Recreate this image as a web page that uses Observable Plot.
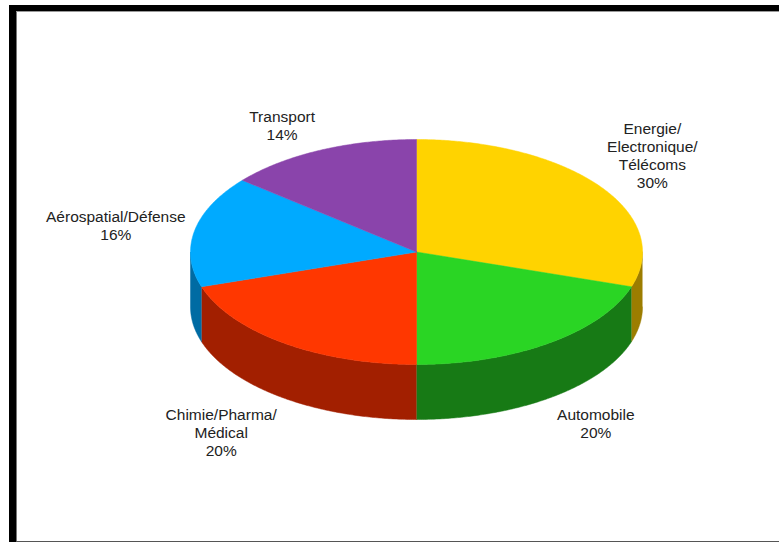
<!DOCTYPE html>
<html>
<head>
<meta charset="utf-8">
<script src="https://cdn.jsdelivr.net/npm/d3@7"></script>
<script src="https://cdn.jsdelivr.net/npm/@observablehq/plot@0.6"></script>
<style>
  html, body { margin: 0; padding: 0; background: #fff; }
  #wrap { position: relative; width: 779px; height: 542px; overflow: hidden; background: #fff; }
  #chart { position: absolute; left: 0; top: 0; }
  .bl { position: absolute; left: 9px; top: 5px; width: 7px; height: 537px; background: #000; }
  .bt { position: absolute; left: 9px; top: 5px; width: 770px; height: 6px; background: #000; }
  .gl { position: absolute; left: 16px; top: 11px; width: 1px; height: 531px; background: #777; }
  .gt { position: absolute; left: 16px; top: 11px; width: 763px; height: 1px; background: #999; }
  .gb { position: absolute; left: 16px; top: 541px; width: 763px; height: 1px; background: #555; }
</style>
</head>
<body>
<div id="wrap">
  <div id="chart"></div>
  <div class="bl"></div><div class="bt"></div>
  <div class="gl"></div><div class="gt"></div><div class="gb"></div>
</div>
<script>
// ---- data ----
const labels = ["Energie/\nElectronique/\nTélécoms", "Automobile", "Chimie/Pharma/\nMédical", "Aérospatial/Défense", "Transport"];
const shares = [30, 20, 20, 16, 14];
const topColors = ["#FFD300", "#2AD524", "#FF3700", "#00AAFF", "#8A44AB"];
const sideColors = ["#9C7D00", "#177A15", "#A21F00", "#006BA3", "#53296A"];

// ---- layout ----
const W = 779, H = 542;
const cx = 416, cy = 251.5, rx = 226, ry = 112.5, depth = 55;
const rad = d => d * Math.PI / 180;
const pt = (a, dy = 0, k = 1) => [cx + k * rx * Math.sin(rad(a)), cy - k * ry * Math.cos(rad(a)) + dy];

const total = d3.sum(shares);
let acc = 0;
const slices = shares.map((v, i) => {
  const a0 = acc / total * 360;
  acc += v;
  const a1 = acc / total * 360;
  return {i, label: labels[i], value: v, a0, a1};
});

function arc(a0, a1, dy) {
  const n = Math.max(2, Math.ceil((a1 - a0) / 0.5));
  return d3.range(n + 1).map(j => pt(a0 + (a1 - a0) * j / n, dy));
}

const sidePts = [];
const topPts = [];
for (const s of slices) {
  const s0 = Math.max(s.a0, 90), s1 = Math.min(s.a1, 270);
  if (s1 > s0) {
    const poly = [...arc(s0, s1, 0), ...arc(s0, s1, depth).reverse()];
    poly.forEach(([x, y]) => sidePts.push({key: "side" + s.i, x, y, c: sideColors[s.i]}));
  }
  const poly = [[cx, cy], ...arc(s.a0, s.a1, 0), [cx, cy]];
  poly.forEach(([x, y]) => topPts.push({key: "top" + s.i, x, y, c: topColors[s.i]}));
}

// label anchors from mid-angle, with small nudges
const nudges = [[-11, -7.5], [0, -7], [-16, 2], [-1, 2], [-4.5, 11]];
const labelData = slices.map(s => {
  const m = (s.a0 + s.a1) / 2;
  const lower = m > 90 && m < 270;
  const [x, y] = pt(m, lower ? depth : 0, 1.35);
  return {x: x + nudges[s.i][0], y: y + nudges[s.i][1], text: s.label + "\n" + s.value + "%"};
});

const chart = Plot.plot({
  width: W, height: H, margin: 0,
  x: {type: "identity", axis: null},
  y: {type: "identity", axis: null},
  style: {background: "transparent", fontFamily: "'Liberation Sans', Arial, sans-serif"},
  marks: [
    Plot.line(sidePts, {x: "x", y: "y", z: "key", fill: "c", stroke: "c", strokeWidth: 0.5, curve: "linear"}),
    Plot.line(topPts, {x: "x", y: "y", z: "key", fill: "c", stroke: "c", strokeWidth: 0.5, curve: "linear"}),
    Plot.text(labelData, {x: "x", y: "y", text: "text", fontSize: 15.5, lineHeight: 18 / 15.5, fill: "#222", textAnchor: "middle"})
  ]
});
document.getElementById("chart").appendChild(chart);
</script>
</body>
</html>
